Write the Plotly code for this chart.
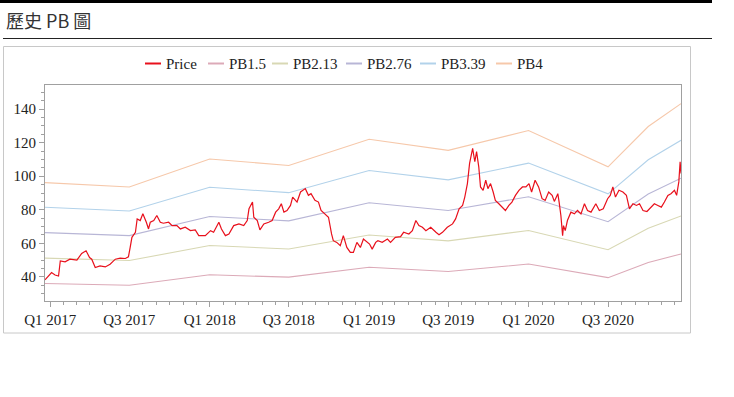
import plotly.graph_objects as go

# ---------------- data ----------------
price_dates = [
    "2016-12-20", "2017-01-04", "2017-01-12", "2017-01-20", "2017-01-24", "2017-02-04", "2017-02-15",
    "2017-03-03", "2017-03-14", "2017-03-24", "2017-04-01", "2017-04-06", "2017-04-14", "2017-04-25",
    "2017-05-07", "2017-05-18", "2017-05-30", "2017-06-10", "2017-06-22", "2017-06-29", "2017-07-03",
    "2017-07-07", "2017-07-15", "2017-07-19", "2017-07-26", "2017-08-01", "2017-08-09", "2017-08-14",
    "2017-08-18", "2017-08-26", "2017-09-02", "2017-09-10", "2017-09-17", "2017-09-29", "2017-10-07",
    "2017-10-18", "2017-10-26", "2017-11-06", "2017-11-18", "2017-11-29", "2017-12-07", "2017-12-22",
    "2018-01-03", "2018-01-10", "2018-01-22", "2018-01-28", "2018-02-06", "2018-02-14", "2018-02-25",
    "2018-03-09", "2018-03-20", "2018-03-28", "2018-04-01", "2018-04-09", "2018-04-12", "2018-04-20",
    "2018-04-26", "2018-05-05", "2018-05-16", "2018-05-24", "2018-06-01", "2018-06-08", "2018-06-14",
    "2018-06-20", "2018-06-27", "2018-07-05", "2018-07-10", "2018-07-20", "2018-07-28", "2018-08-04",
    "2018-08-08", "2018-08-15", "2018-08-21", "2018-08-30", "2018-09-07", "2018-09-13", "2018-09-22",
    "2018-09-30", "2018-10-07", "2018-10-11", "2018-10-19", "2018-10-27", "2018-11-03", "2018-11-11",
    "2018-11-19", "2018-11-26", "2018-12-04", "2018-12-12", "2018-12-19",
    "2019-01-02", "2019-01-08", "2019-01-16", "2019-01-21", "2019-01-31", "2019-02-12", "2019-02-19",
    "2019-03-02", "2019-03-14", "2019-03-21", "2019-04-02", "2019-04-10", "2019-04-18", "2019-04-25",
    "2019-05-03", "2019-05-11", "2019-05-22", "2019-06-03", "2019-06-10", "2019-06-18", "2019-06-29",
    "2019-07-11", "2019-07-18", "2019-07-26", "2019-08-03", "2019-08-08", "2019-08-14", "2019-08-19",
    "2019-08-26", "2019-08-31", "2019-09-04", "2019-09-09", "2019-09-13", "2019-09-19", "2019-09-25",
    "2019-09-30", "2019-10-06", "2019-10-12", "2019-10-17", "2019-10-25", "2019-11-02", "2019-11-09",
    "2019-11-17", "2019-11-24", "2019-12-02", "2019-12-10", "2019-12-18", "2019-12-26",
    "2020-01-02", "2020-01-08", "2020-01-16", "2020-01-24", "2020-02-01", "2020-02-08", "2020-02-16",
    "2020-02-24", "2020-02-29", "2020-03-08", "2020-03-11", "2020-03-15", "2020-03-19", "2020-03-21",
    "2020-03-25", "2020-03-30", "2020-04-07", "2020-04-15", "2020-04-22", "2020-04-30", "2020-05-08",
    "2020-05-15", "2020-05-23", "2020-06-03", "2020-06-11", "2020-06-20", "2020-06-30", "2020-07-06",
    "2020-07-12", "2020-07-18", "2020-07-26", "2020-08-04", "2020-08-12", "2020-08-19", "2020-08-27",
    "2020-09-04", "2020-09-11", "2020-09-19", "2020-09-28", "2020-10-08", "2020-10-15", "2020-10-23",
    "2020-10-31", "2020-11-07", "2020-11-15", "2020-11-22", "2020-11-30", "2020-12-05", "2020-12-10",
    "2020-12-13", "2020-12-15",
]
price_values = [
    38.3, 42.6, 41.2, 40.6, 49.6, 49.0, 50.6, 50.0, 54.0, 55.6, 51.6, 50.6, 45.6, 46.6,
    46.0, 47.6, 50.6, 51.2, 51.0, 52.0, 57.6, 63.6, 66.6, 74.6, 73.6, 77.6, 72.6, 68.6,
    72.6, 73.6, 76.6, 72.6, 72.0, 72.6, 70.6, 70.6, 68.6, 69.6, 67.6, 68.0, 64.6, 64.6,
    67.6, 66.6, 72.6, 68.6, 64.6, 65.6, 70.6, 71.6, 70.6, 73.6, 80.6, 84.6, 75.6, 73.6,
    68.0, 71.6, 72.6, 73.6, 78.6, 80.6, 83.6, 78.6, 79.6, 82.6, 87.6, 84.6, 90.6, 91.6,
    92.6, 88.6, 89.6, 85.6, 84.6, 79.6, 77.6, 75.6, 65.6, 61.6, 60.6, 58.6, 64.6, 57.6,
    54.6, 54.6, 60.6, 57.6, 62.6,
    59.6, 56.6, 60.6, 61.6, 60.6, 62.6, 60.6, 63.6, 64.0, 66.6, 65.6, 67.6, 73.6, 70.6,
    69.6, 67.6, 69.6, 66.6, 65.2, 66.6, 69.6, 71.6, 74.6, 80.6, 82.6, 87.6, 95.6, 107.6,
    116.6, 108.6, 114.6, 105.6, 93.6, 91.6, 97.6, 92.6, 95.6, 90.6, 85.6, 83.6, 81.6, 79.6,
    82.6, 84.6, 88.6, 91.6, 93.6, 93.6,
    95.6, 90.6, 97.6, 93.6, 86.6, 85.6, 90.6, 88.6, 85.0, 89.6, 84.6, 76.6, 64.6, 70.6,
    67.6, 73.6, 78.6, 77.6, 79.6, 77.6, 83.6, 79.6, 78.6, 83.6, 79.6, 80.6, 86.6, 88.6,
    93.6, 87.6, 91.6, 90.6, 88.6, 80.6, 83.6, 82.6, 83.6, 79.6, 79.0, 81.6, 83.6, 82.6,
    81.6, 84.6, 88.6, 89.6, 91.6, 88.6, 96.6, 108.6, 101.6,
]
assert len(price_dates) == len(price_values)

band_dates = ["2016-12-20", "2017-07-01", "2018-01-01", "2018-07-01", "2019-01-01",
              "2019-07-01", "2020-01-01", "2020-07-01", "2020-10-01", "2020-12-15"]
pb_1_5 = [36.1, 35.1, 41.3, 39.9, 45.8, 43.3, 47.7, 39.6, 48.6, 53.7]
pb_2_13 = [51.2, 49.8, 58.7, 56.7, 65.0, 61.5, 67.7, 56.2, 69.0, 76.3]
pb_2_76 = [66.4, 64.6, 76.0, 73.4, 84.2, 79.6, 87.8, 72.9, 89.4, 98.8]
pb_3_39 = [81.5, 79.3, 93.4, 90.2, 103.4, 97.8, 107.8, 89.5, 109.8, 121.4]
pb_4 = [96.2, 93.6, 110.2, 106.4, 122.0, 115.4, 127.2, 105.6, 129.6, 143.2]

price_name = "Price"
band_names = ["PB1.5", "PB2.13", "PB2.76", "PB3.39", "PB4"]
band_values = [pb_1_5, pb_2_13, pb_2_76, pb_3_39, pb_4]
price_color = "#e8101c"
band_colors = ["#dcaab8", "#d8d8b4", "#b8b6d6", "#b2d2ea", "#f6c8aa"]

x_tick_vals = ["2017-01-01", "2017-07-01", "2018-01-01", "2018-07-01",
               "2019-01-01", "2019-07-01", "2020-01-01", "2020-07-01"]
x_tick_text = ["Q1 2017", "Q3 2017", "Q1 2018", "Q3 2018",
               "Q1 2019", "Q3 2019", "Q1 2020", "Q3 2020"]
y_tick_vals = [40, 60, 80, 100, 120, 140]

title_text = "歷史 PB 圖"

# ---------------- figure ----------------
SERIF = "Liberation Serif, Times New Roman, serif"
AXIS_GREY = "#a0a0a0"

fig = go.Figure()
for name, vals, col in zip(band_names, band_values, band_colors):
    fig.add_trace(go.Scatter(x=band_dates, y=vals, mode="lines", name=name,
                             line=dict(color=col, width=1.1), hoverinfo="skip"))
fig.add_trace(go.Scatter(x=price_dates, y=price_values, mode="lines", name=price_name,
                         line=dict(color=price_color, width=1.2)))

W, H = 734, 397
L, R, T, B = 45, 681, 85, 301  # plot area in pixels
pw, ph = R - L, B - T


def px(xp):
    return (xp - L) / pw


def py(yp):
    return (B - yp) / ph


shapes = [
    # thick black header bar
    dict(type="rect", xref="paper", yref="paper", x0=px(0), x1=px(712), y0=py(3), y1=py(0),
         fillcolor="black", line=dict(width=0), layer="above"),
    # header rule
    dict(type="line", xref="paper", yref="paper", x0=px(3), x1=px(712), y0=py(38.5), y1=py(38.5),
         line=dict(color="#222", width=1)),
    # chart box
    dict(type="rect", xref="paper", yref="paper", x0=px(3.5), x1=px(690.5), y0=py(333), y1=py(46.5),
         line=dict(color="#c8c8c8", width=1), fillcolor="rgba(0,0,0,0)"),
]

annotations = [
    dict(text=title_text, xref="paper", yref="paper", x=px(4), y=py(20),
         xanchor="left", yanchor="middle", showarrow=False,
         font=dict(family="Noto Sans CJK TC, Noto Sans CJK SC, sans-serif",
                   size=18, color="#333")),
]

# compact legend row with short line keys (layout positions in pixels)
legend_key_x = [145, 208, 272, 346, 420, 496]
KEY_LEN, KEY_GAP, LEG_Y = 16, 5, 63.5
entries = [(price_name, price_color)] + list(zip(band_names, band_colors))
for (name, col), kx in zip(entries, legend_key_x):
    shapes.append(dict(type="line", xref="paper", yref="paper",
                       x0=px(kx), x1=px(kx + KEY_LEN), y0=py(LEG_Y), y1=py(LEG_Y),
                       line=dict(color=col, width=2)))
    annotations.append(dict(text=name, xref="paper", yref="paper",
                            x=px(kx + KEY_LEN + KEY_GAP - 2), y=py(LEG_Y + 0.5),
                            xanchor="left", yanchor="middle", showarrow=False,
                            font=dict(family=SERIF, size=15, color="#222")))

fig.update_layout(
    width=W, height=H,
    margin=dict(l=L, r=W - R, t=T, b=H - B, pad=0),
    paper_bgcolor="white", plot_bgcolor="white",
    shapes=shapes,
    annotations=annotations,
    showlegend=False,
    hovermode="x",
)

fig.update_xaxes(
    type="date", range=[price_dates[0], price_dates[-1]],
    tickmode="array", tickvals=x_tick_vals, ticktext=x_tick_text,
    ticks="outside", ticklen=5, tickcolor=AXIS_GREY,
    showline=True, linecolor=AXIS_GREY, linewidth=1, mirror=True,
    showgrid=False, zeroline=False,
    tickfont=dict(family=SERIF, size=15, color="#222"),
    minor=dict(tickmode="linear", tick0="2017-01-01", dtick="M1", ticks="outside",
               ticklen=3, tickcolor=AXIS_GREY, showgrid=False),
)
fig.update_yaxes(
    range=[25.7, 154.3],
    tickmode="array", tickvals=y_tick_vals,
    ticks="outside", ticklen=5, tickcolor=AXIS_GREY,
    showline=True, linecolor=AXIS_GREY, linewidth=1, mirror=True,
    showgrid=False, zeroline=False,
    tickfont=dict(family=SERIF, size=15, color="#222"),
    minor=dict(tickmode="linear", tick0=0, dtick=5, ticks="outside",
               ticklen=3, tickcolor=AXIS_GREY, showgrid=False),
)

fig.write_html("out.html", config={"displayModeBar": False},
               post_script="document.body.style.margin='0';document.body.style.padding='0';")
